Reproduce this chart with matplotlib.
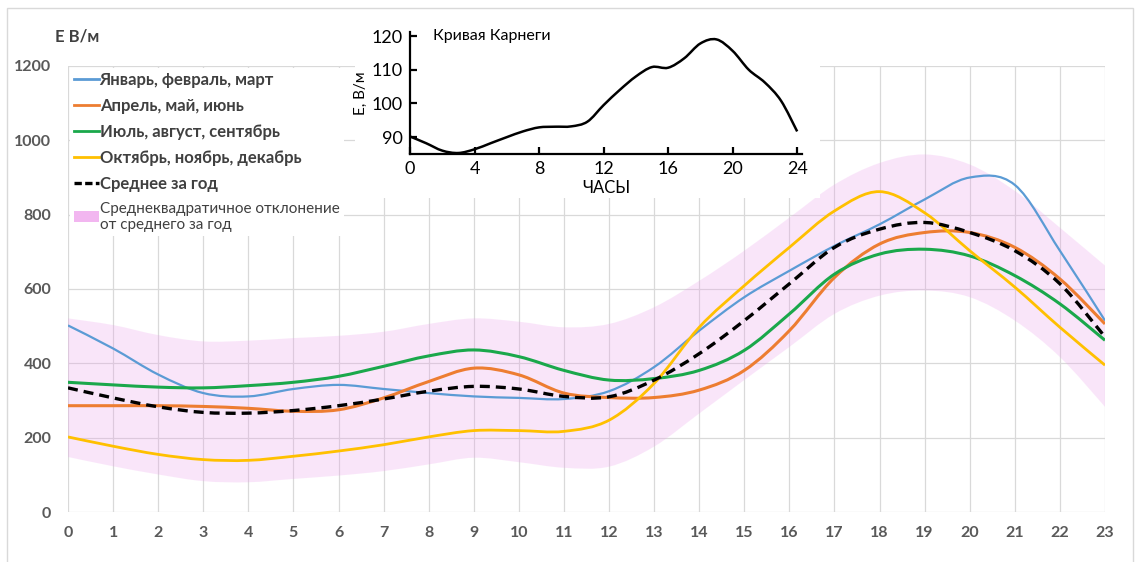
import numpy as np
import matplotlib
matplotlib.use("Agg")
import matplotlib.pyplot as plt
from matplotlib.path import Path
from matplotlib.patches import PathPatch, Patch, Rectangle
from matplotlib.lines import Line2D

plt.rcParams['font.family'] = ['Lato', 'DejaVu Sans']

# === Data ===
hours = list(range(24))
jan_mar = [502, 440, 370, 320, 311, 331, 342, 331, 320, 311, 307, 304,
           325, 390, 488, 578, 649, 716, 774, 841, 900, 880, 703, 515]
apr_jun = [286, 286, 286, 284, 279, 271, 275, 307, 351, 387, 369, 320,
           308, 308, 328, 381, 488, 631, 721, 752, 752, 712, 627, 506]
jul_sep = [349, 342, 336, 334, 340, 349, 365, 392, 420, 436, 418, 381,
           355, 359, 381, 435, 533, 640, 694, 707, 689, 636, 560, 462]
oct_dec = [202, 177, 155, 141, 139, 150, 164, 181, 202, 219, 219, 217,
           247, 346, 497, 609, 712, 810, 862, 805, 703, 605, 497, 395]
year_mean = [334, 307, 283, 268, 266, 273, 286, 304, 325, 338, 331, 311,
             310, 355, 426, 515, 614, 712, 761, 779, 752, 703, 614, 471]
std_upper = [521, 503, 476, 459, 461, 468, 474, 485, 506, 521, 512, 497,
             506, 551, 622, 703, 792, 881, 939, 962, 935, 864, 765, 663]
std_lower = [148, 123, 101, 83, 80, 89, 98, 110, 128, 146, 134, 119,
             122, 176, 265, 355, 444, 533, 582, 596, 578, 515, 417, 283]

carnegie_hours = list(range(25))
carnegie = [90.2, 88.2, 86.0, 85.3, 86.4, 88.2, 90.0, 91.7, 92.9, 93.1, 93.2, 94.6,
            99.5, 104.0, 108.0, 110.8, 110.6, 113.4, 117.8, 119.0, 115.6, 110.0,
            106.2, 100.8, 91.7]

labels = ["Январь, февраль, март", "Апрель, май, июнь", "Июль, август, сентябрь",
          "Октябрь, ноябрь, декабрь", "Среднее за год",
          "Среднеквадратичное отклонение\nот среднего за год"]
colors = ['#5B9BD5', '#ED7D31', '#1AA84B', '#FFC000']
widths = [1.6, 2.2, 2.2, 2.0]


def bezier_verts(x, y):
    # smoothed line like Excel: catmull-rom tangents -> cubic bezier segments
    p = np.column_stack([x, y]).astype(float)
    ext = np.vstack([p[0], p, p[-1]])
    verts = [p[0]]
    for i in range(len(p) - 1):
        p0, p1, p2, p3 = ext[i], ext[i + 1], ext[i + 2], ext[i + 3]
        verts += [p1 + (p2 - p0) / 6, p2 - (p3 - p1) / 6, p2]
    return verts


def smooth_line(ax, x, y, **kw):
    v = bezier_verts(x, y)
    codes = [Path.MOVETO] + [Path.CURVE4] * (len(v) - 1)
    ax.add_patch(PathPatch(Path(v, codes), fill=False, **kw))


def smooth_band(ax, x, lo, hi, **kw):
    up = bezier_verts(x, hi)
    down = bezier_verts(x[::-1], lo[::-1])
    v = up + down + [up[0]]
    codes = ([Path.MOVETO] + [Path.CURVE4] * (len(up) - 1) + [Path.LINETO]
             + [Path.CURVE4] * (len(down) - 1) + [Path.CLOSEPOLY])
    ax.add_patch(PathPatch(Path(v, codes), **kw))


fig = plt.figure(figsize=(11.36, 5.62), dpi=100)
fig.patches.append(Rectangle((7 / 1136, -0.01), 1126 / 1136, 1 - 8 / 562 + 0.01,
                             transform=fig.transFigure, fill=False,
                             edgecolor='#d9d9d9', lw=1.0, zorder=-1))

ax = fig.add_axes([68 / 1136, 1 - 512 / 562, (1105 - 68) / 1136, (512 - 66) / 562])
ax.set_xlim(0, 23)
ax.set_ylim(0, 1200)
ax.set_xticks(hours)
ax.set_yticks(range(0, 1201, 200))
ax.grid(True, color='#d9d9d9', lw=0.9)
ax.set_axisbelow(True)
for s in ax.spines.values():
    s.set_visible(False)
ax.tick_params(length=0, labelsize=11.5, labelcolor='#595959', pad=12)
ax.tick_params(axis='x', pad=10)
for t in ax.get_xticklabels() + ax.get_yticklabels():
    t.set_fontweight('bold')

smooth_band(ax, hours, std_lower, std_upper, facecolor='#EB9BEB', alpha=0.25,
            edgecolor='none', zorder=1)
for ser, c, w in zip([jan_mar, apr_jun, jul_sep, oct_dec], colors, widths):
    smooth_line(ax, hours, ser, edgecolor=c, lw=w, zorder=3)
smooth_line(ax, hours, year_mean, edgecolor='black', lw=2.4, linestyle=(0, (3, 1.8)), zorder=4)

handles = [Line2D([], [], color=c, lw=2) for c in colors]
handles.append(Line2D([], [], color='black', lw=2.4, linestyle=(0, (2.2, 1.0))))
handles.append(Patch(facecolor='#F2B6F0', edgecolor='none'))
leg = ax.legend(handles, labels, loc='upper left', bbox_to_anchor=(0.0, 1.0),
                fontsize=12, frameon=True, fancybox=False, framealpha=1,
                edgecolor='none', handlelength=1.5, handletextpad=0.05,
                labelspacing=0.6, borderaxespad=0.1, borderpad=0.25)
leg.set_zorder(5)
for i, t in enumerate(leg.get_texts()):
    t.set_color('#404040')
    t.set_fontweight('bold')
last = leg.get_texts()[5]
last.set_fontweight('normal')
last.set_fontsize(11)

fig.text(55 / 1136, 1 - 37 / 562, "Е В/м", ha='left', va='center',
         fontsize=12, fontweight='bold', color='#404040')

# === Inset: Carnegie curve ===
fig.patches.append(Rectangle((355 / 1136, 1 - 198 / 562), 465 / 1136, 188 / 562,
                             transform=fig.transFigure, facecolor='white',
                             edgecolor='none', zorder=1))
axi = fig.add_axes([410 / 1136, 1 - 154 / 562, (802 - 410) / 1136, (154 - 32) / 562])
axi.set_zorder(2)
axi.patch.set_alpha(0)
axi.set_xlim(0, 24.3)
axi.set_ylim(85, 121.2)
axi.spines['top'].set_visible(False)
axi.spines['right'].set_visible(False)
axi.spines['left'].set_linewidth(1.6)
axi.spines['bottom'].set_linewidth(1.6)
axi.set_xticks(range(0, 25, 4))
axi.set_yticks([90, 100, 110, 120])
axi.tick_params(direction='in', length=5, width=1.6, labelsize=13, pad=5)
smooth_line(axi, carnegie_hours, carnegie, edgecolor='black', lw=1.8, zorder=3)
axi.set_xlabel("ЧАСЫ", fontsize=12, labelpad=2)
axi.set_ylabel("Е, В/м", fontsize=11, labelpad=3)
axi.text(1.4, 120, "Кривая Карнеги", fontsize=11.5, va='center', ha='left')

fig.savefig("out.png", dpi=100)
